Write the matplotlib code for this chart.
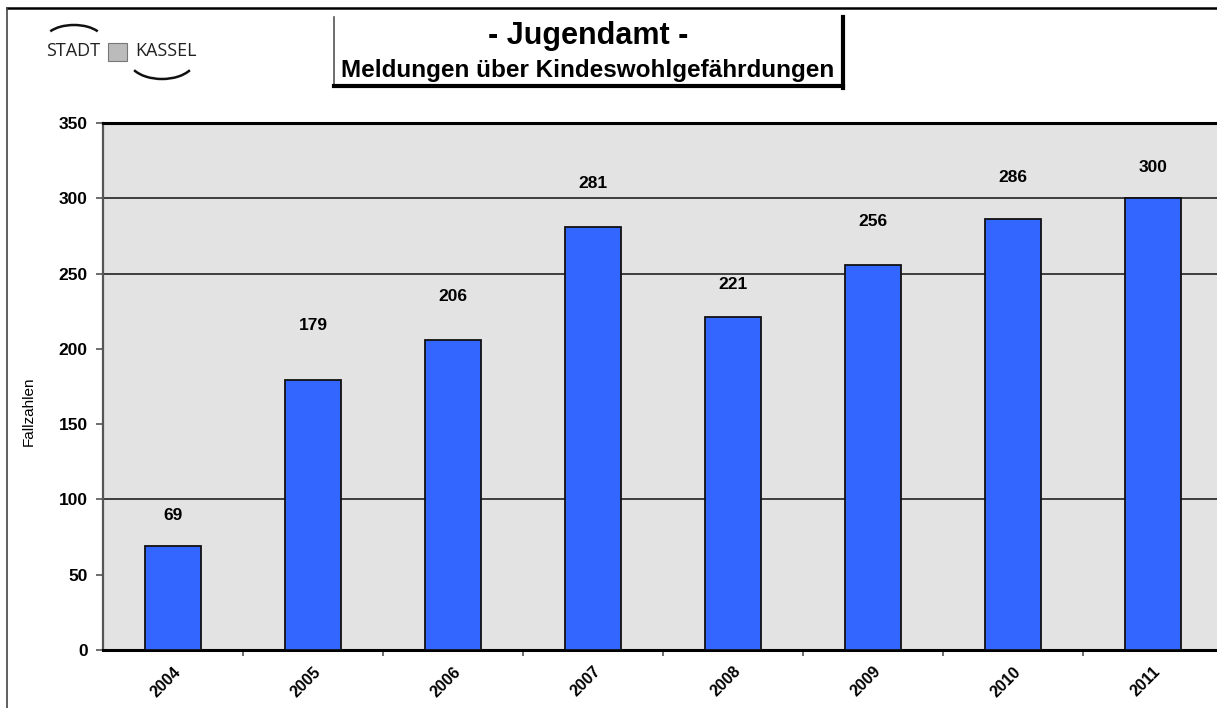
import matplotlib
matplotlib.use("Agg")
import matplotlib.pyplot as plt
from matplotlib.patches import Arc, Rectangle

# data
years = ["2004", "2005", "2006", "2007", "2008", "2009", "2010", "2011"]
cases = [69, 179, 206, 281, 221, 256, 286, 300]
y_ticks = [0, 50, 100, 150, 200, 250, 300, 350]
grid_values = [100, 250, 300]

# label offsets above bar tops (pixels), as placed in the original
label_off = [31, 55, 43, 43, 33, 43, 42, 31]

plt.rcParams['font.family'] = ['Liberation Sans', 'DejaVu Sans']

W, H = 1217, 708
fig = plt.figure(figsize=(W / 100, H / 100), dpi=100)
fig.patch.set_facecolor('white')

ax = fig.add_axes([103 / W, 1 - 650 / H, (1223 - 103) / W, (650 - 123) / H])
ax.set_facecolor('#e3e3e3')
x = list(range(len(years)))
ax.bar(x, cases, width=0.4, color='#3366ff', edgecolor='#111111', linewidth=1.3, zorder=3)
for yv in grid_values:
    ax.axhline(yv, color='#222222', linewidth=1.2, zorder=1)

ax.set_xlim(-0.5, len(years) - 0.5)
ax.set_ylim(0, 350)
ax.set_yticks(y_ticks)
ax.set_yticklabels([str(v) for v in y_ticks], fontsize=12.5, fontweight='bold')
ax.set_xticks(x)
ax.set_xticklabels(years, rotation=45, ha='right', rotation_mode='anchor',
                   fontsize=11.5, fontweight='bold')
ax.tick_params(axis='x', length=0, pad=10)
ax.set_xticks([i + 0.5 for i in range(len(years))], minor=True)
ax.tick_params(axis='x', which='minor', length=4, color='#555555', width=1.2)
ax.tick_params(axis='y', length=5, color='#555555', width=1.2, pad=6)

ax.spines['top'].set_linewidth(2.2)
ax.spines['top'].set_color('black')
ax.spines['bottom'].set_linewidth(2.2)
ax.spines['bottom'].set_color('black')
ax.spines['left'].set_linewidth(1.6)
ax.spines['left'].set_color('#555555')
ax.spines['right'].set_visible(False)

ax.set_ylabel('Fallzahlen', fontsize=11)
ax.yaxis.set_label_coords(-0.06, 0.453)

for i, v in enumerate(cases):
    ax.annotate(str(v), (i, v), xytext=(0, label_off[i]), textcoords='offset pixels',
                ha='center', va='center', fontsize=12.5, fontweight='bold')

# overlay in pixel coordinates for frame, title box and logo
ov = fig.add_axes([0, 0, 1, 1], zorder=5)
ov.set_xlim(0, W)
ov.set_ylim(H, 0)
ov.axis('off')
ov.patch.set_alpha(0)

ov.plot([7, W], [8, 8], color='black', lw=1.8)
ov.plot([7, 7], [8, H], color='#444444', lw=1.2)

# title box with shadow
ov.plot([334, 334], [17, 86], color='#555555', lw=1.2)
ov.plot([334, 843], [86, 86], color='black', lw=3)
ov.plot([843, 843], [17, 88], color='black', lw=3)
ov.text(588, 36, '- Jugendamt -', ha='center', va='center', fontsize=22, fontweight='bold')
ov.text(588, 70, 'Meldungen über Kindeswohlgefährdungen', ha='center', va='center',
        fontsize=17.5, fontweight='bold')

# logo
ov.text(73, 51, 'STADT', ha='center', va='center', fontsize=13, family='Open Sans',
        color='#222222')
ov.text(166, 51, 'KASSEL', ha='center', va='center', fontsize=13, family='Open Sans',
        color='#222222')
ov.add_patch(Rectangle((108, 43), 19, 18, facecolor='#bbbbbb', edgecolor='#777777', lw=0.8))
ov.add_patch(Arc((74, 40), 58, 30, theta1=200, theta2=340, color='#111111', lw=1.8))
ov.add_patch(Arc((162, 60), 66, 38, theta1=20, theta2=160, color='#111111', lw=1.8))

fig.savefig('out.png', dpi=100)
